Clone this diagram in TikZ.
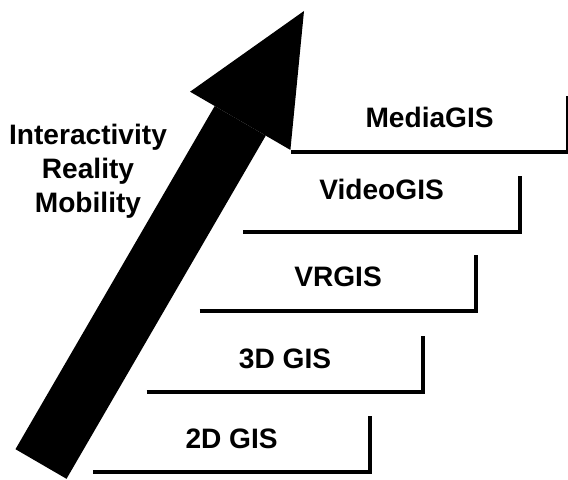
\documentclass[tikz,border=0pt]{standalone}
\usepackage{fontspec}
\setmainfont{Liberation Sans}
\usetikzlibrary{arrows.meta}

\tikzset{
  stepbox/.style={minimum width=6.9cm, minimum height=1.4cm, inner sep=0pt,
    text height=0.5cm, text depth=0.3cm, font=\fontsize{20}{24}\selectfont\bfseries},
  stepline/.style={line width=3pt}
}

\begin{document}
\begin{tikzpicture}
\useasboundingbox (0,0) rectangle (14.2,11.975);

% Big arrow
\coordinate (tail) at (1.025,0.375);
\coordinate (tip) at (7.6,11.7);
\draw[line width=1.475cm, -{Triangle[length=3.175cm, width=2.9cm, line width=0pt]}] (tail) -- (tip);

% Label
\node[font=\fontsize{20}{24}\selectfont\bfseries, align=center, inner sep=0pt] (aspects) at (2.2,7.7) {Interactivity\\Reality\\Mobility};

% Steps
\node[stepbox] (gis2d) at (5.79,0.875) {2D GIS};
\node[stepbox] (gis3d) at (7.125,2.875) {3D GIS};
\node[stepbox] (vrgis) at (8.45,4.9) {VRGIS};
\node[stepbox, text depth=0.7cm] (videogis) at (9.54,6.875) {VideoGIS};
\node[stepbox] (mediagis) at (10.74,8.875) {MediaGIS};

% Step edges
\draw[stepline] (gis2d.south west) -- (gis2d.south east) -- (gis2d.north east);
\draw[stepline] (gis3d.south west) -- (gis3d.south east) -- (gis3d.north east);
\draw[stepline] (vrgis.south west) -- (vrgis.south east) -- (vrgis.north east);
\draw[stepline] (videogis.south west) -- (videogis.south east) -- (videogis.north east);
\draw[stepline] (mediagis.south west) -- (mediagis.south east) -- (mediagis.north east);
\end{tikzpicture}
\end{document}
